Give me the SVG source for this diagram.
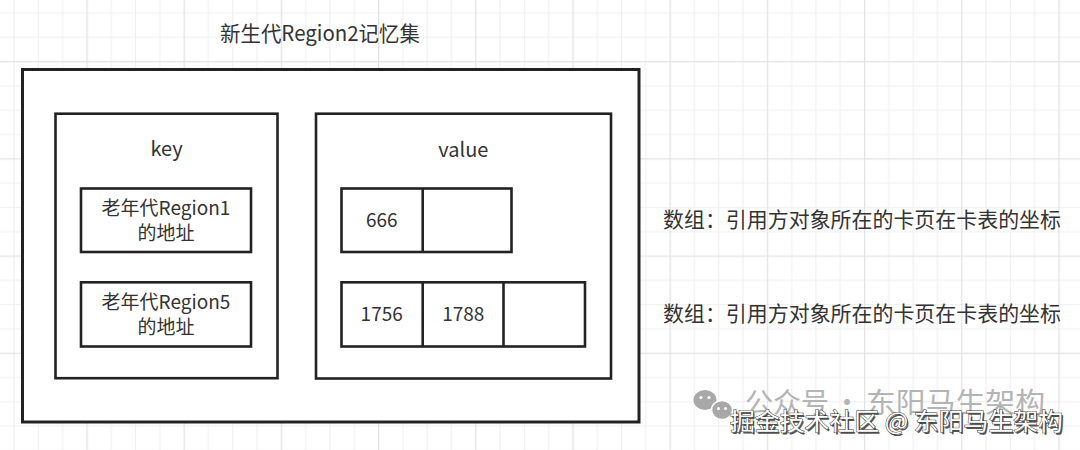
<svg xmlns="http://www.w3.org/2000/svg" width="1080" height="450" viewBox="0 0 1080 450">
  <style>
    .box { fill: #ffffff; stroke: #222222; stroke-width: 2.6; }
    .outer { fill: #ffffff; stroke: #222222; stroke-width: 3; }
    .div { stroke: #222222; stroke-width: 2.6; }
    .t { font-family: "Noto Sans CJK SC", "Noto Sans", sans-serif; fill: #333333; }
    .c { text-anchor: middle; }
    .wm1 { font-family: "Noto Sans CJK SC", sans-serif; fill: #b4b4b4; font-size: 28px; }
    .wm2 { font-family: "Noto Sans CJK SC", sans-serif; font-size: 24px; }
  </style>
  <defs>
    <pattern id="grid" patternUnits="userSpaceOnUse" x="86.4" y="61.1" width="97.2" height="97.2">
      <rect x="0" y="0" width="97.2" height="97.2" fill="#ffffff"/>
      <rect x="24.3" y="0" width="1" height="97.2" fill="#efefef"/>
      <rect x="48.6" y="0" width="1" height="97.2" fill="#efefef"/>
      <rect x="72.9" y="0" width="1" height="97.2" fill="#efefef"/>
      <rect x="0" y="24.3" width="97.2" height="1" fill="#efefef"/>
      <rect x="0" y="48.6" width="97.2" height="1" fill="#efefef"/>
      <rect x="0" y="72.9" width="97.2" height="1" fill="#efefef"/>
      <rect x="0" y="0" width="1.2" height="97.2" fill="#e2e2e2"/>
      <rect x="0" y="0" width="97.2" height="1.2" fill="#e2e2e2"/>
    </pattern>
  </defs>

  <rect x="0" y="0" width="1080" height="450" fill="url(#grid)"/>

  <g id="title">
    <text class="t c" x="320" y="41" font-size="21" textLength="200" lengthAdjust="spacingAndGlyphs">新生代Region2记忆集</text>
  </g>

  <g id="remembered-set">
    <rect class="outer" x="22.5" y="69.5" width="616.5" height="352.5"/>
  </g>

  <g id="key">
    <rect class="box" x="55.5" y="113.7" width="222" height="264.5"/>
    <text class="t c" x="166.5" y="156" font-size="20">key</text>
  </g>

  <g id="key-region1">
    <rect class="box" x="81" y="188.5" width="170" height="63.5"/>
    <text class="t c" x="166" y="215" font-size="19">老年代Region1</text>
    <text class="t c" x="166" y="239.5" font-size="19">的地址</text>
  </g>

  <g id="key-region5">
    <rect class="box" x="81" y="282.3" width="170" height="64.2"/>
    <text class="t c" x="166" y="309" font-size="19">老年代Region5</text>
    <text class="t c" x="166" y="333.5" font-size="19">的地址</text>
  </g>

  <g id="value">
    <rect class="box" x="316" y="113.7" width="295" height="264.8"/>
    <text class="t c" x="463.3" y="156.5" font-size="20">value</text>
  </g>

  <g id="array1">
    <rect class="box" x="341.5" y="188.5" width="170" height="63.5"/>
    <line class="div" x1="422.7" y1="188.5" x2="422.7" y2="252"/>
    <text class="t c" x="381.7" y="226.7" font-size="19">666</text>
  </g>

  <g id="array2">
    <rect class="box" x="341.5" y="282.3" width="243.5" height="64.2"/>
    <line class="div" x1="422.7" y1="282.3" x2="422.7" y2="346.5"/>
    <line class="div" x1="503.5" y1="282.3" x2="503.5" y2="346.5"/>
    <text class="t c" x="381.7" y="320.7" font-size="19">1756</text>
    <text class="t c" x="463.3" y="320.7" font-size="19">1788</text>
  </g>

  <g id="note1">
    <text class="t" x="663" y="227.3" font-size="21" textLength="398" lengthAdjust="spacingAndGlyphs">数组：引用方对象所在的卡页在卡表的坐标</text>
  </g>

  <g id="note2">
    <text class="t" x="663" y="320.7" font-size="21" textLength="398" lengthAdjust="spacingAndGlyphs">数组：引用方对象所在的卡页在卡表的坐标</text>
  </g>

  <g id="connectors"></g>

  <g id="watermark">
    <ellipse cx="705" cy="400" rx="11.5" ry="10" fill="#a8a8a8"/>
    <circle cx="701" cy="397.5" r="1.6" fill="#ffffff"/>
    <circle cx="709" cy="397.5" r="1.6" fill="#ffffff"/>
    <ellipse cx="722" cy="410" rx="10.5" ry="9.5" fill="#a8a8a8" stroke="#ffffff" stroke-width="1.5"/>
    <circle cx="718.5" cy="408.5" r="1.5" fill="#ffffff"/>
    <circle cx="725.5" cy="408.5" r="1.5" fill="#ffffff"/>
    <text class="wm1" x="745" y="413" textLength="84" lengthAdjust="spacingAndGlyphs">公众号</text>
    <text class="wm1" x="847" y="413" text-anchor="middle">·</text>
    <text class="wm1" x="866" y="413" textLength="179" lengthAdjust="spacingAndGlyphs">东阳马生架构</text>
    <text class="wm2" x="731.5" y="431.5" textLength="333" lengthAdjust="spacingAndGlyphs" fill="#555555">掘金技术社区 @ 东阳马生架构</text>
    <text class="wm2" x="730" y="430" textLength="333" lengthAdjust="spacingAndGlyphs" fill="#ffffff" stroke="#333333" stroke-width="1" paint-order="stroke">掘金技术社区 @ 东阳马生架构</text>
  </g>
</svg>
